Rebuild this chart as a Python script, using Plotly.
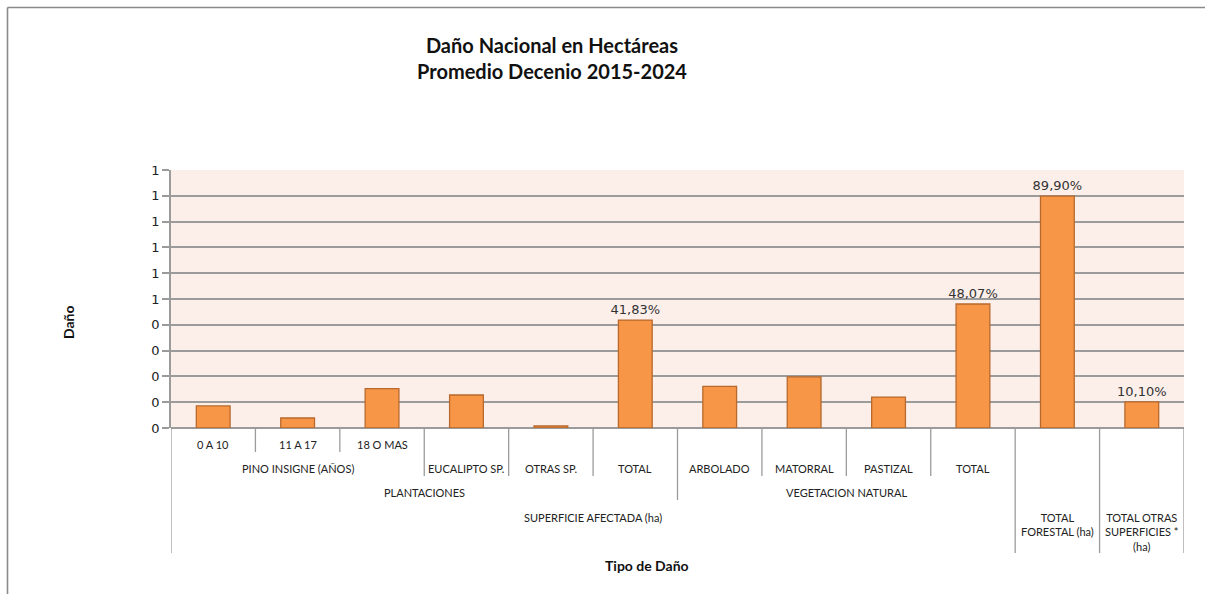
import plotly.graph_objects as go

# ---- data ----
leaf_labels = ["0 A 10", "11 A 17", "18 O MAS", "EUCALIPTO SP.", "OTRAS SP.", "TOTAL",
               "ARBOLADO", "MATORRAL", "PASTIZAL", "TOTAL",
               "TOTAL FORESTAL (ha)", "TOTAL OTRAS SUPERFICIES * (ha)"]
values = [0.0854, 0.0388, 0.1530, 0.1280, 0.0078, 0.4183,
          0.1610, 0.1980, 0.1200, 0.4807, 0.8990, 0.1010]
value_labels = ["", "", "", "", "", "41,83%", "", "", "", "48,07%", "89,90%", "10,10%"]
y_tick_values = [0.0, 0.1, 0.2, 0.3, 0.4, 0.5, 0.6, 0.7, 0.8, 0.9, 1.0]
y_tick_labels = ["0", "0", "0", "0", "0", "1", "1", "1", "1", "1", "1"]

# hierarchical category groups: (label, first index, last index)
row1_groups = [("0 A 10", 0, 0), ("11 A 17", 1, 1), ("18 O MAS", 2, 2)]
row2_groups = [("PINO INSIGNE (AÑOS)", 0, 2), ("EUCALIPTO SP.", 3, 3), ("OTRAS SP.", 4, 4),
               ("TOTAL", 5, 5), ("ARBOLADO", 6, 6), ("MATORRAL", 7, 7),
               ("PASTIZAL", 8, 8), ("TOTAL", 9, 9)]
row3_groups = [("PLANTACIONES", 0, 5), ("VEGETACION NATURAL", 6, 9)]
row4_groups = [("SUPERFICIE AFECTADA (ha)", 0, 9), ("TOTAL<br>FORESTAL (ha)", 10, 10),
               ("TOTAL OTRAS<br>SUPERFICIES *<br>(ha)", 11, 11)]

title_text = "<b>Daño Nacional en Hectáreas<br>Promedio Decenio 2015-2024</b>"
x_title = "<b>Tipo de Daño</b>"
y_title = "<b>Daño</b>"

# ---- layout geometry (pixels) ----
W, H = 1205, 594
L, R, T, B = 171, 1184, 170, 428
pw, ph = R - L, B - T


def px(x):
    return (x - L) / pw


def py(y):
    return (B - y) / ph


cat_font = "Lato, 'Open Sans', sans-serif"
num_font = "'DejaVu Sans', Verdana, sans-serif"
grid = "#9b9b9b"

xs = list(range(len(leaf_labels)))

fig = go.Figure()
fig.add_trace(go.Bar(
    x=xs, y=values, width=0.4,
    marker=dict(color="#F79646", line=dict(color="#B8692D", width=1.3)),
    text=value_labels, textposition="outside", cliponaxis=False,
    constraintext="none",
    textfont=dict(family=num_font, size=13, color="#333333"),
    hoverinfo="skip",
))

shapes = []
annotations = []

# separator lines of the multi-level category axis
row_bottoms = {1: 452, 2: 476, 3: 500, 4: 553}
row_centers = {1: 444, 2: 468, 3: 492, 4: 517}
rows = {1: row1_groups, 2: row2_groups, 3: row3_groups, 4: row4_groups}
n = len(leaf_labels)
for k in range(n + 1):
    depth = 0
    for r, groups in rows.items():
        for (_, a, b) in groups:
            if k == a or k == b + 1:
                depth = max(depth, r)
    if depth:
        shapes.append(dict(type="line", xref="x", yref="paper",
                           x0=k - 0.5, x1=k - 0.5, y0=0, y1=py(row_bottoms[depth]),
                           line=dict(color=grid, width=1.3)))

for r, groups in rows.items():
    for (lab, a, b) in groups:
        multiline = "<br>" in lab
        annotations.append(dict(
            text=lab, xref="x", yref="paper", x=(a + b) / 2,
            y=py(row_centers[r] - 8) if multiline else py(row_centers[r]),
            yanchor="top" if multiline else "middle", xanchor="center",
            showarrow=False, font=dict(family=cat_font, size=11, color="#222222"),
        ))

# titles
annotations.append(dict(text=title_text, xref="paper", yref="paper",
                        x=px(552), y=py(58), xanchor="center", yanchor="middle",
                        showarrow=False,
                        font=dict(family=cat_font, size=20, color="#111111")))
annotations.append(dict(text=x_title, xref="paper", yref="paper",
                        x=px(647), y=py(565), xanchor="center", yanchor="middle",
                        showarrow=False,
                        font=dict(family=cat_font, size=14, color="#111111")))
annotations.append(dict(text=y_title, xref="paper", yref="paper",
                        x=px(68), y=py(322), xanchor="center", yanchor="middle",
                        textangle=-90, showarrow=False,
                        font=dict(family=cat_font, size=14, color="#111111")))

# outer chart frame (top and left edges visible)
shapes.append(dict(type="line", xref="paper", yref="paper",
                   x0=px(7.5), x1=px(1210), y0=py(7.5), y1=py(7.5),
                   line=dict(color="#8a8a8a", width=1.6)))
shapes.append(dict(type="line", xref="paper", yref="paper",
                   x0=px(7.5), x1=px(7.5), y0=py(7.5), y1=py(600),
                   line=dict(color="#8a8a8a", width=1.6)))

fig.update_layout(
    width=W, height=H,
    margin=dict(l=L, r=W - R, t=T, b=H - B, pad=0),
    paper_bgcolor="white", plot_bgcolor="#FCEEE9",
    showlegend=False, bargap=0.6,
    shapes=shapes, annotations=annotations,
    xaxis=dict(range=[-0.5, n - 0.5], showticklabels=False, showgrid=False,
               zeroline=False, showline=False, ticks=""),
    yaxis=dict(range=[0, 1], tickvals=y_tick_values, ticktext=y_tick_labels,
               showgrid=True, gridcolor=grid, gridwidth=1.5,
               zeroline=True, zerolinecolor=grid, zerolinewidth=1.5,
               showline=True, linecolor=grid, linewidth=1.5,
               ticks="outside", ticklen=7, tickcolor=grid, tickwidth=1.5,
               tickfont=dict(family=num_font, size=13, color="#222222")),
)

fig.write_html("out.html")
